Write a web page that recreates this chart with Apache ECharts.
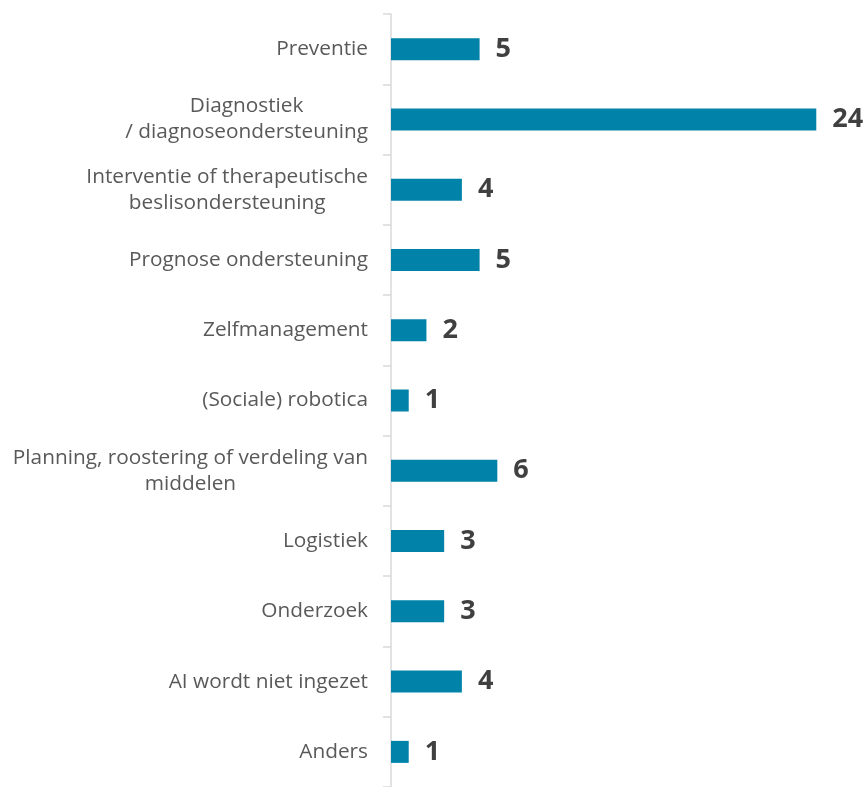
<!DOCTYPE html>
<html>
<head>
<meta charset="utf-8">
<script src="https://cdn.jsdelivr.net/npm/echarts@6/dist/echarts.min.js"></script>
<style>
  html, body { margin: 0; padding: 0; background: #ffffff; }
  #chart { width: 868px; height: 787px; }
</style>
</head>
<body>
<div id="chart"></div>
<script>
// Toepassingsgebieden van AI (aantal vermeldingen)
const categories = [
  'Preventie',
  'Diagnostiek\n/ diagnoseondersteuning',
  'Interventie of therapeutische\nbeslisondersteuning',
  'Prognose ondersteuning',
  'Zelfmanagement',
  '(Sociale) robotica',
  'Planning, roostering of verdeling van\nmiddelen',
  'Logistiek',
  'Onderzoek',
  'AI wordt niet ingezet',
  'Anders'
];
const counts = [5, 24, 4, 5, 2, 1, 6, 3, 3, 4, 1];

const FONT = '"Open Sans", "Noto Sans", sans-serif';

const chart = echarts.init(document.getElementById('chart'), null, { renderer: 'canvas' });

chart.setOption({
  animation: false,
  backgroundColor: '#ffffff',
  grid: { left: 391, top: 14, width: 443, height: 778 },
  xAxis: {
    type: 'value',
    min: 0,
    max: 25,
    show: false
  },
  yAxis: {
    type: 'category',
    inverse: true,
    data: categories,
    axisLine: { show: true, lineStyle: { color: '#d9d9d9', width: 1.5 } },
    axisTick: { show: true, length: 8, lineStyle: { color: '#d9d9d9', width: 1.5 } },
    axisLabel: {
      margin: 23,
      fontFamily: FONT,
      fontSize: 20.8,
      color: '#595959',
      lineHeight: 26,
      formatter: function (v) {
        return v.split('\n').map(function (l) { return '{c|' + l + '}'; }).join('\n');
      },
      rich: {
        c: {
          align: 'center',
          fontFamily: FONT,
          fontSize: 20.8,
          color: '#595959',
          lineHeight: 26
        }
      }
    },
    splitLine: { show: false }
  },
  series: [{
    type: 'bar',
    data: counts,
    barWidth: 22,
    itemStyle: { color: '#0182a8' },
    label: {
      show: true,
      position: 'right',
      distance: 16,
      fontFamily: FONT,
      fontWeight: 'bold',
      fontSize: 27,
      color: '#404040'
    }
  }]
});
</script>
</body>
</html>
